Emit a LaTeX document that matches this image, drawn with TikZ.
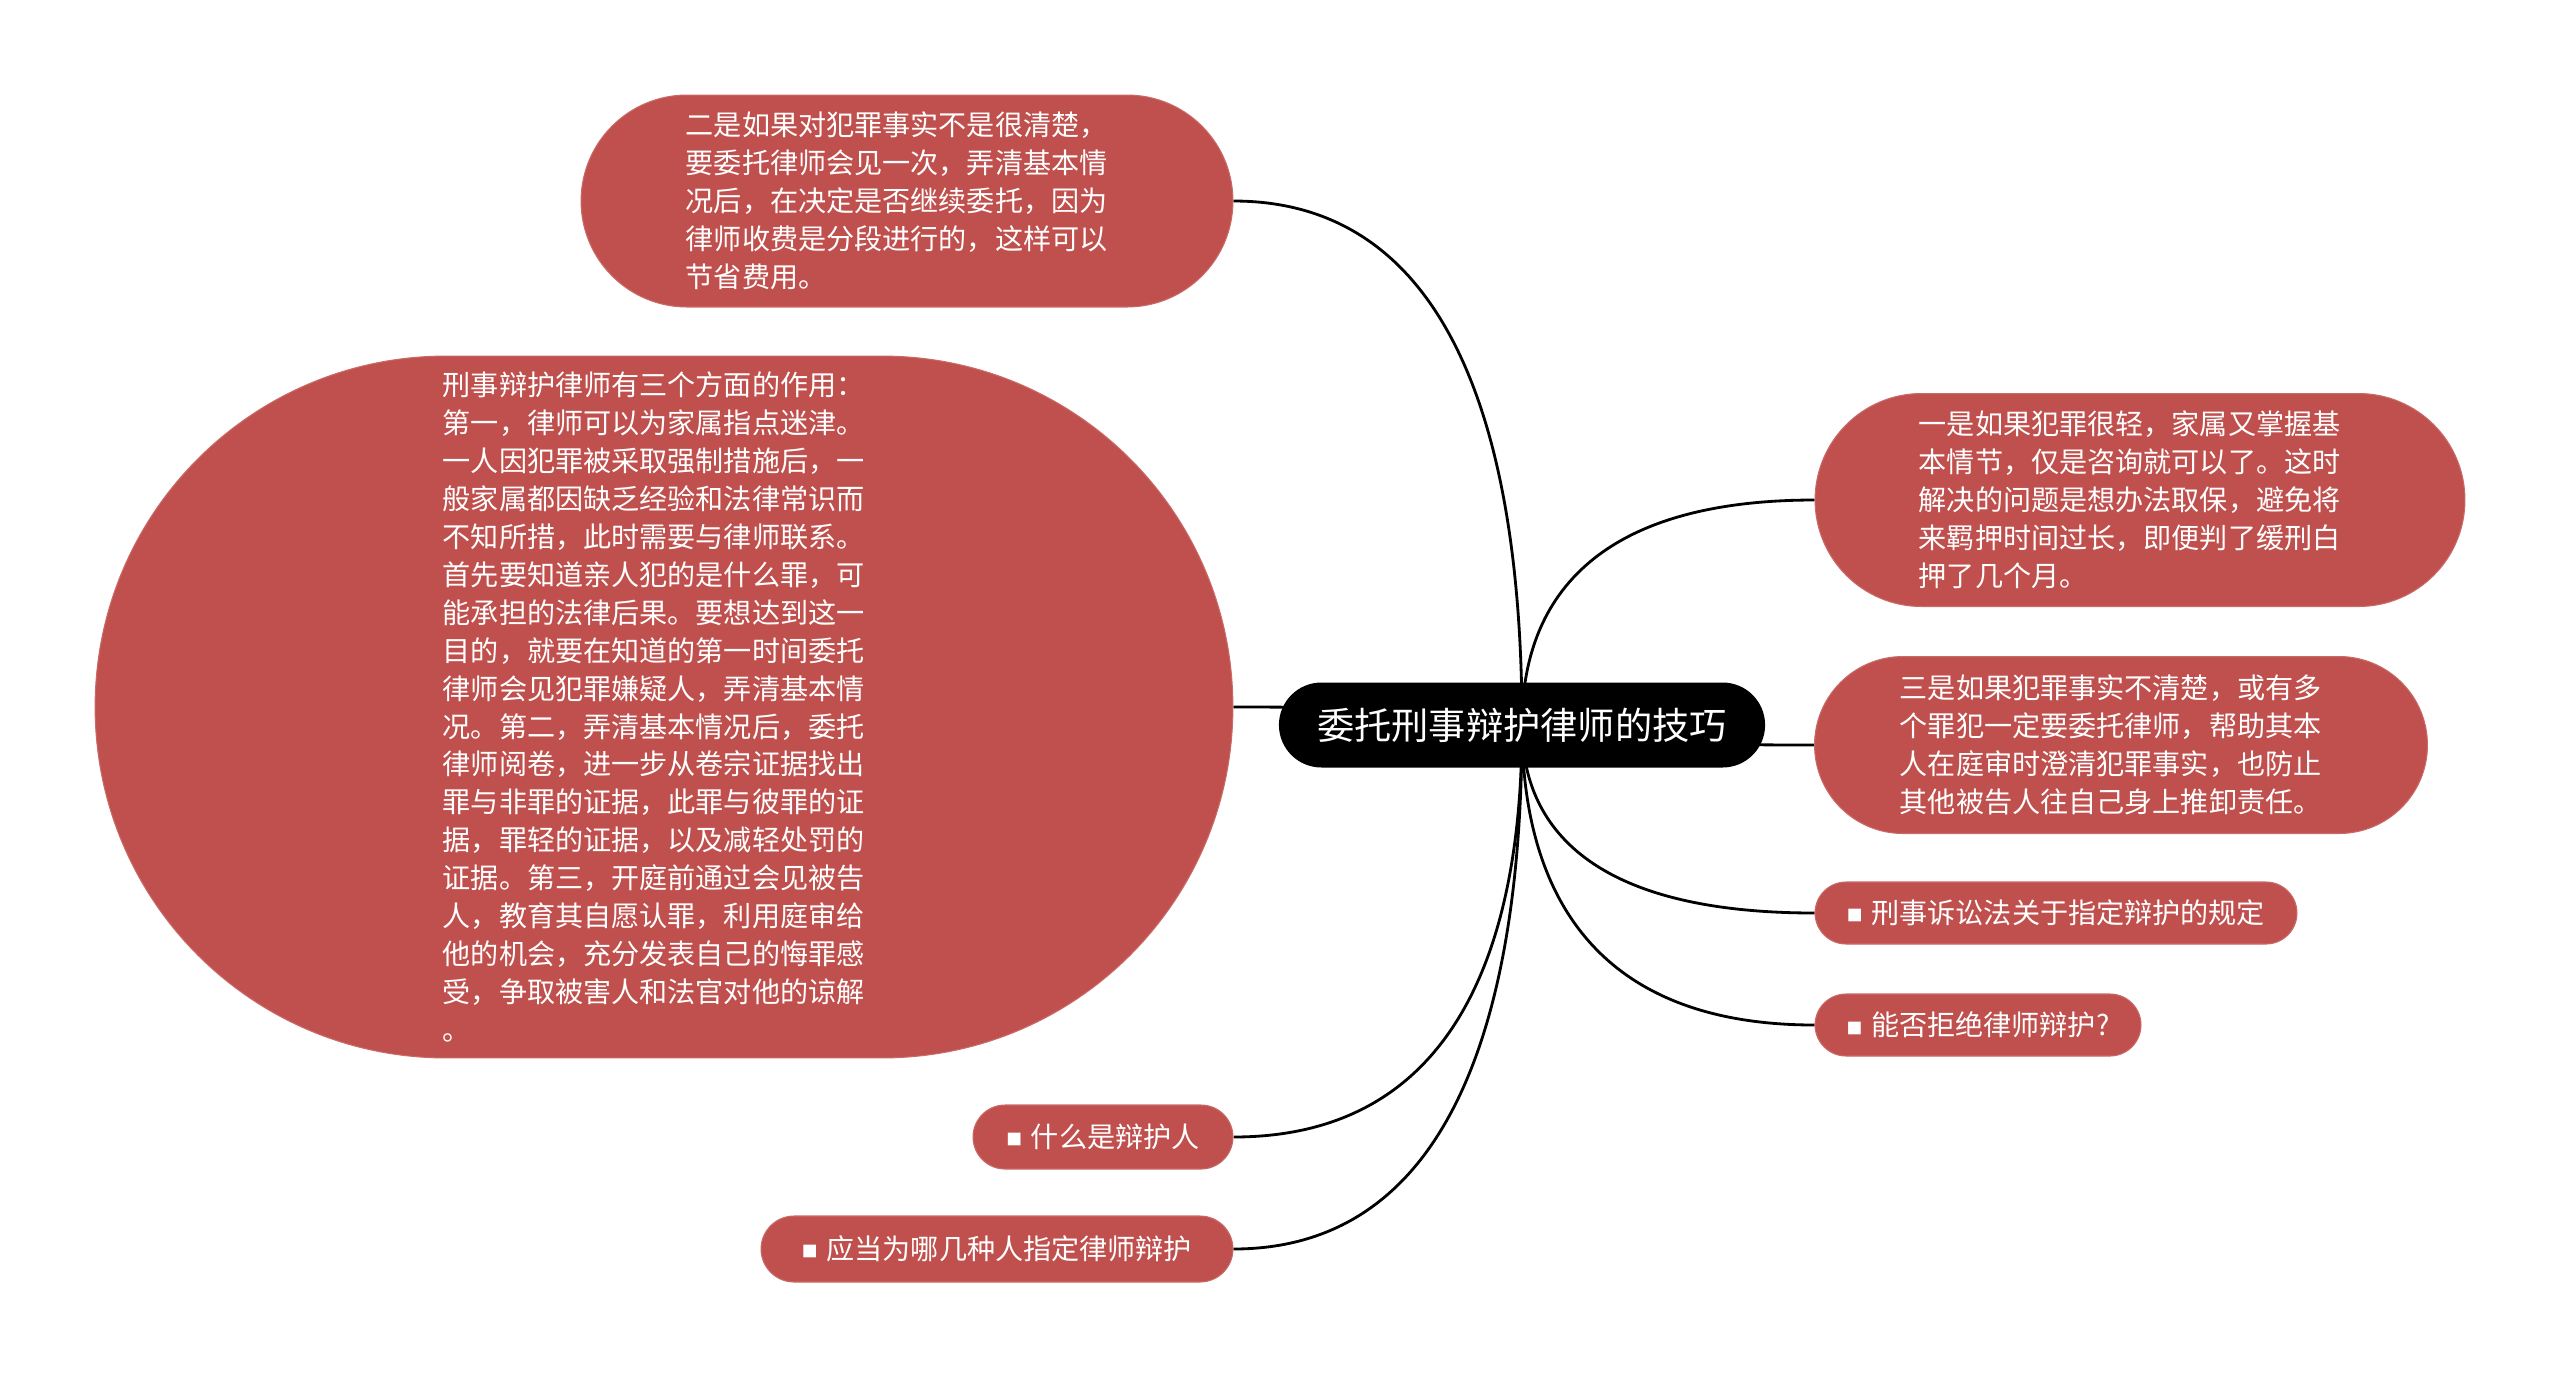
\documentclass[tikz,border=0pt]{standalone}
\usepackage{fontspec}
\setmainfont{Noto Sans CJK SC}
\usepackage{tikz}
\usetikzlibrary{positioning,shapes.misc,calc,backgrounds}
\definecolor{topicred}{HTML}{C0504D}
\newcommand{\sqbullet}{\raisebox{1pt}{\fontsize{9}{9}\selectfont ■}\hspace{5pt}}

\begin{document}
\begin{tikzpicture}[
  x=0.02cm, y=-0.02cm,
  core/.style={rounded rectangle, fill=black, text=white,
               minimum width=9.96cm, minimum height=1.70cm,
               font=\fontsize{21.2}{25}\selectfont},
  leaf/.style={rounded rectangle, fill=topicred, draw=topicred!85!white,
               line width=0.6pt, text=white, inner sep=0pt,
               font=\fontsize{16}{21.6}\selectfont},
  para/.style={leaf, align=left, text width=8.85cm},
  branch/.style={line width=1.6pt,
                 to path={.. controls ($(\tikztostart)!0.5!(\tikztostart |- \tikztotarget)$)
                          and ($(\tikztostart |- \tikztotarget)!0.2!(\tikztotarget)$) .. (\tikztotarget)}}
]
  \useasboundingbox (0,0) rectangle (2560,1377);

  \node[core] (skill) at (1522,725) {委托刑事辩护律师的技巧};

  % left side
  \node[para, minimum width=13.04cm, minimum height=4.24cm] (second) at (907,201)
    {二是如果对犯罪事实不是很清楚，\\
     要委托律师会见一次，弄清基本情\\
     况后，在决定是否继续委托，因为\\
     律师收费是分段进行的，这样可以\\
     节省费用。};
  \node[para, minimum width=22.76cm, minimum height=14.04cm] (roles) at (664,707)
    {刑事辩护律师有三个方面的作用：\\
     第一，律师可以为家属指点迷津。\\
     一人因犯罪被采取强制措施后，一\\
     般家属都因缺乏经验和法律常识而\\
     不知所措，此时需要与律师联系。\\
     首先要知道亲人犯的是什么罪，可\\
     能承担的法律后果。要想达到这一\\
     目的，就要在知道的第一时间委托\\
     律师会见犯罪嫌疑人，弄清基本情\\
     况。第二，弄清基本情况后，委托\\
     律师阅卷，进一步从卷宗证据找出\\
     罪与非罪的证据，此罪与彼罪的证\\
     据，罪轻的证据，以及减轻处罚的\\
     证据。第三，开庭前通过会见被告\\
     人，教育其自愿认罪，利用庭审给\\
     他的机会，充分发表自己的悔罪感\\
     受，争取被害人和法官对他的谅解\\
     。};
  \node[leaf, minimum width=5.20cm, minimum height=1.28cm] (defender) at (1103,1137)
    {\sqbullet 什么是辩护人};
  \node[leaf, minimum width=9.44cm, minimum height=1.32cm] (assign) at (997,1249)
    {\sqbullet 应当为哪几种人指定律师辩护};

  % right side
  \node[para, minimum width=13.00cm, minimum height=4.26cm] (first) at (2140,500)
    {一是如果犯罪很轻，家属又掌握基\\
     本情节，仅是咨询就可以了。这时\\
     解决的问题是想办法取保，避免将\\
     来羁押时间过长，即便判了缓刑白\\
     押了几个月。};
  \node[para, minimum width=12.26cm, minimum height=3.54cm] (third) at (2121,745)
    {三是如果犯罪事实不清楚，或有多\\
     个罪犯一定要委托律师，帮助其本\\
     人在庭审时澄清犯罪事实，也防止\\
     其他被告人往自己身上推卸责任。};
  \node[leaf, minimum width=9.64cm, minimum height=1.24cm] (rule) at (2056,913)
    {\sqbullet 刑事诉讼法关于指定辩护的规定};
  \node[leaf, minimum width=6.52cm, minimum height=1.24cm] (refuse) at (1978,1025)
    {\sqbullet 能否拒绝律师辩护?};

  \begin{scope}[on background layer]
    \draw[branch] (skill.center) to (second.east);
    \draw[branch] (skill.center) to (roles.east);
    \draw[branch] (skill.center) to (defender.east);
    \draw[branch] (skill.center) to (assign.east);
    \draw[branch] (skill.center) to (first.west);
    \draw[branch] (skill.center) to (third.west);
    \draw[branch] (skill.center) to (rule.west);
    \draw[branch] (skill.center) to (refuse.west);
  \end{scope}
\end{tikzpicture}
\end{document}
